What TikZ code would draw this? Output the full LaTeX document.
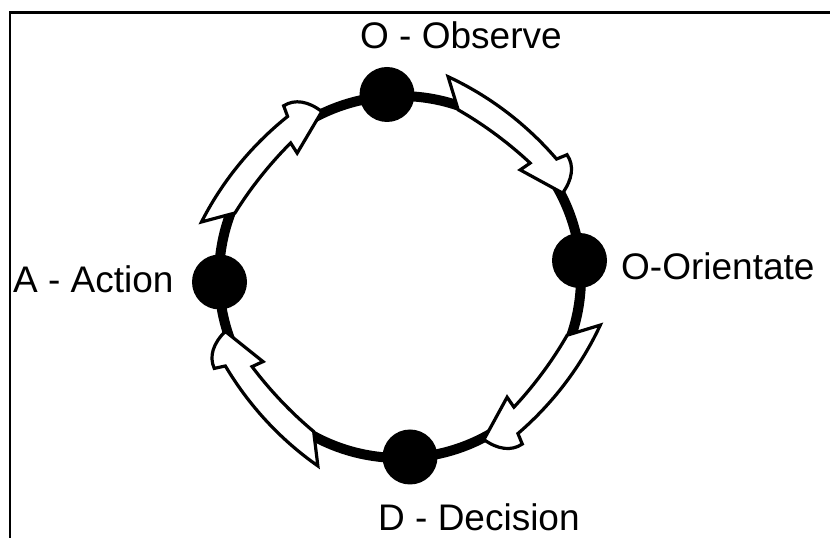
\documentclass[tikz,border=0pt]{standalone}
\usepackage{fontspec}
\setmainfont{Liberation Sans}

\tikzset{
  ring/.style={line width=10pt},
  dot/.style={circle, fill=black, minimum size=55pt, inner sep=0pt},
  lbl/.style={font=\fontsize{37}{44}\selectfont, inner sep=0pt, anchor=base west},
  blockarrow/.style={draw=black, fill=white, line width=3.2pt, line join=miter, miter limit=4},
  frameline/.style={line width=2.2pt}
}

% one curved block arrow of the cycle, rotated about the ring centre;
% its edges are slightly flatter than the ring itself
\newcommand\cyclearrow[1]{%
  \begin{scope}[shift={(400,261)}, rotate=#1]
    \draw[blockarrow]
      plot[domain=76.5:37, samples=30]
        (\x:{196+(\x-37)*0.253-0.012*(\x-37)*(76.5-\x)})
      -- (36.2:207)
      .. controls (32.5:207) and (29.5:198) .. (27.3:183)
      -- (41.7:161) -- (41.2:173)
      -- plot[domain=41.2:70.8, samples=25]
        (\x:{173+(\x-41.2)*0.135-0.015*(\x-41.2)*(70.8-\x)})
      -- cycle;
  \end{scope}}

\begin{document}
\begin{tikzpicture}[x=1pt, y=1pt]
  \useasboundingbox (0,0) rectangle (830,538);
  \fill[white] (0,0) rectangle (830,538);

  % open frame: left and top edges
  \draw[frameline] (10,0) -- (10,525.5) -- (830,525.5);

  % the loop
  \draw[ring] (400,261) circle[radius=181];

  % arrows running clockwise round the loop
  \cyclearrow{0}
  \cyclearrow{-90}
  \cyclearrow{-190}
  \cyclearrow{88}

  % stages
  \node[dot] (obs) at (387,443.5) {};
  \node[dot] (ori) at (579.5,277.5) {};
  \node[dot] (dec) at (410,81) {};
  \node[dot] (act) at (219.5,256) {};

  % stage names
  \node[lbl] (obstext) at (360,489) {O - Observe};
  \node[lbl] (oritext) at (621,258) {O-Orientate};
  \node[lbl] (acttext) at (13,245) {A - Action};
  \node[lbl] (dectext) at (378,7) {D - Decision};
\end{tikzpicture}
\end{document}
